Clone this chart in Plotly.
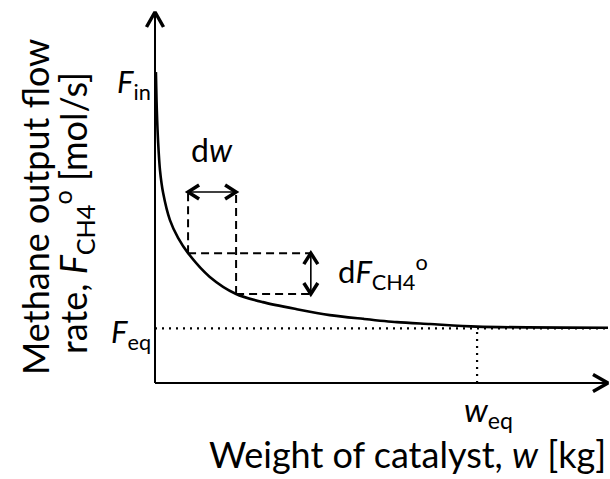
import plotly.graph_objects as go

# ---- data (arbitrary schematic units) ----
W = [0.02, 0.04, 0.07, 0.11, 0.18, 0.33, 0.51, 0.73, 1.21, 1.79, 2.38, 3.13, 3.86, 4.59, 5.34, 6.07, 7.11, 10.0]
F = [8.38, 7.36, 6.47, 5.74, 5.12, 4.39, 3.91, 3.50, 2.86, 2.40, 2.18, 1.99, 1.83, 1.73, 1.64, 1.59, 1.52, 1.49]
F_IN = 8.38
F_EQ = 1.47
W_EQ = 7.11
DW_W = [0.73, 1.79]      # left / right edge of dw step
DW_F = [3.50, 2.40]      # curve values at those edges
DW_TOP = 5.15            # level of the dw arrow
DF_W = 3.44              # position of the dF arrow
X_MAX, Y_MAX = 10.0, 10.0

# ---- layout geometry ----
WIDTH, HEIGHT = 610, 479
OX, OY = 155, 383          # pixel position of the axes origin
SX = (608 - OX) / X_MAX    # pixels per x unit
SY = (OY - 12) / Y_MAX     # pixels per y unit
XR = [-OX / SX, (WIDTH - OX) / SX]
YR = [-(HEIGHT - OY) / SY, OY / SY]

def dx_px(p):  # pixel column -> data x (for label placement)
    return (p - OX) / SX

def dy_px(p):  # pixel row -> data y (for label placement)
    return (OY - p) / SY

FONT = "Lato, Carlito, Calibri, sans-serif"
TITLE = 36
LAB = 31

fig = go.Figure()

def line(xs, ys, width=2, dash="solid", color="black"):
    fig.add_trace(go.Scatter(x=xs, y=ys, mode="lines", hoverinfo="skip",
                             line=dict(color=color, width=width, dash=dash),
                             showlegend=False))

def chevron(tx, ty, dx, dy, length, half, width=3.5):
    px, py = -dy, dx
    xs = [tx - dx * length / SX + px * half / SX, tx, tx - dx * length / SX - px * half / SX]
    ys = [ty - dy * length / SY + py * half / SY, ty, ty - dy * length / SY - py * half / SY]
    line(xs, ys, width=width)

# axes
line([0, 0], [0, Y_MAX], width=2)
line([0, X_MAX], [0, 0], width=2)
chevron(0, Y_MAX, 0, 1, 15, 8.5)
chevron(X_MAX, 0, 1, 0, 15, 8.5)

# equilibrium guides
line([0, X_MAX], [F_EQ, F_EQ], width=2.2, dash="2px,5px")
line([W_EQ, W_EQ], [0, F_EQ], width=2.2, dash="2px,5px")

# dashed step construction
DASH = "8px,5px"
line([DW_W[0], DW_W[0]], [DW_F[0], DW_TOP], width=2, dash=DASH)
line([DW_W[1], DW_W[1]], [DW_F[1], DW_TOP], width=2, dash=DASH)
line([DW_W[0], DF_W], [DW_F[0], DW_F[0]], width=2, dash=DASH)
line([DW_W[1], DF_W], [DW_F[1], DW_F[1]], width=2, dash=DASH)

# dw double arrow
line([DW_W[0], DW_W[1]], [DW_TOP, DW_TOP], width=1.6)
chevron(DW_W[0], DW_TOP, -1, 0, 11, 7)
chevron(DW_W[1], DW_TOP, 1, 0, 11, 7)
# dF double arrow
line([DF_W, DF_W], [DW_F[1], DW_F[0]], width=1.6)
chevron(DF_W, DW_F[0], 0, 1, 11, 7)
chevron(DF_W, DW_F[1], 0, -1, 11, 7)

# main curve
fig.add_trace(go.Scatter(x=W, y=F, mode="lines", hoverinfo="skip", showlegend=False,
                         line=dict(color="black", width=2.6, shape="spline", smoothing=0.8)))

def label(text, x, y, xanchor="center", yanchor="middle", size=LAB, angle=0):
    fig.add_annotation(text=text, x=x, y=y, xref="x", yref="y", showarrow=False,
                       xanchor=xanchor, yanchor=yanchor, textangle=angle,
                       font=dict(family=FONT, size=size, color="black"))

label("<i>F</i><sub>in</sub>", dx_px(153), dy_px(83), xanchor="right")
label("<i>F</i><sub>eq</sub>", dx_px(153), dy_px(333), xanchor="right")
label("<i>w</i><sub>eq</sub>", dx_px(488), dy_px(411), size=33)
label("d<i>w</i>", dx_px(212), dy_px(149), size=32)
label("d<i>F</i><sub>CH4</sub><sup>o</sup>", dx_px(336), dy_px(272), xanchor="left")
label("Weight of catalyst, <i>w</i> [kg]", X_MAX, dy_px(454), xanchor="right", size=TITLE)
label("Methane output flow", dx_px(35), dy_px(207), angle=-90, size=TITLE)
label("rate, <i>F</i><sub>CH4</sub><sup>o</sup> [mol/s]", dx_px(73), dy_px(213), angle=-90, size=TITLE)

fig.update_xaxes(range=XR, visible=False, showgrid=False, zeroline=False)
fig.update_yaxes(range=YR, visible=False, showgrid=False, zeroline=False)
fig.update_layout(width=WIDTH, height=HEIGHT, margin=dict(l=0, r=0, t=0, b=0, pad=0),
                  paper_bgcolor="white", plot_bgcolor="white", showlegend=False)

fig.write_html("out.html", config={"displayModeBar": False},
               post_script="document.body.style.margin='0';")
